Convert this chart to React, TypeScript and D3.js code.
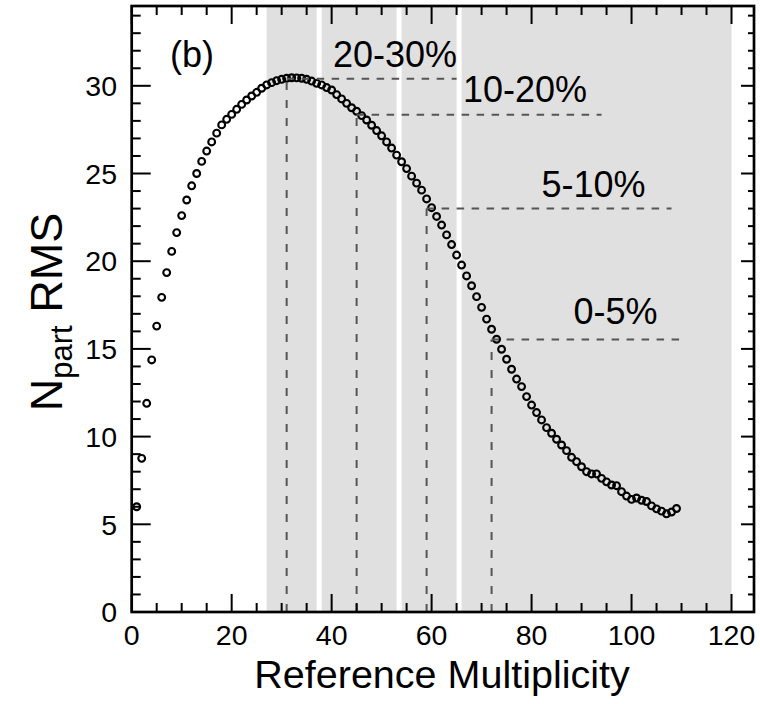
import React from 'react';
import * as d3 from 'd3';

// N_part RMS per reference-multiplicity bin, starting at multiplicity 1
const rmsValues = [
  6.0, 8.76, 11.9, 14.37, 16.3, 17.94, 19.35, 20.56, 21.63, 22.6,
  23.49, 24.3, 25.0, 25.69, 26.28, 26.8, 27.3, 27.77, 28.09, 28.37,
  28.66, 28.94, 29.19, 29.42, 29.63, 29.86, 30.05, 30.18, 30.29, 30.37,
  30.43, 30.46, 30.45, 30.43, 30.37, 30.27, 30.14, 30.05, 29.9, 29.76,
  29.5, 29.25, 29.0, 28.75, 28.55, 28.3, 28.05, 27.75, 27.45, 27.15,
  26.8, 26.45, 26.05, 25.67, 25.28, 24.85, 24.45, 24.05, 23.55, 23.05,
  22.55, 22.06, 21.5, 20.95, 20.35, 19.78, 19.16, 18.6, 17.98, 17.37,
  16.7, 16.12, 15.55, 14.98, 14.41, 13.84, 13.28, 12.85, 12.28, 11.8,
  11.37, 10.95, 10.51, 10.19, 9.85, 9.52, 9.2, 8.82, 8.57, 8.28,
  8.0, 7.87, 7.87, 7.62, 7.42, 7.24, 7.2, 6.86, 6.61, 6.42,
  6.5, 6.37, 6.3, 6.05, 5.88, 5.75, 5.6, 5.7, 5.9,
];
const firstMultiplicity = 1;

// centrality classes: shaded multiplicity ranges
const bandStart = [27, 38, 54, 66];
const bandEnd = [37, 53, 65, 120];

// class cut markers
const classLabels = ['20-30%', '10-20%', '5-10%', '0-5%'];
const cutMultiplicity = [31, 45, 59, 72];
const cutRms = [30.4, 28.35, 23.0, 15.53];
const cutLineEnd = [65, 94, 108, 110];

const xMajorTicks = [0, 20, 40, 60, 80, 100, 120];
const yMajorTicks = [0, 5, 10, 15, 20, 25, 30];

const W = 760;
const H = 704;
const FONT = '"Liberation Sans", Arial, Helvetica, sans-serif';

// pixel anchors for the class labels (text start, baseline)
const labelAnchors: [number, number][] = [
  [333, 67],
  [463, 102],
  [541.5, 197],
  [573.5, 324],
];

export default function App() {
  const x = d3.scaleLinear().domain([0, 124.5]).range([131.7, 754]);
  const y = d3.scaleLinear().domain([0, 34.55]).range([612, 6]);
  const [x0, x1] = x.range();
  const [y0, y1] = y.range();

  const xMinor = d3.range(0, 125, 5).filter((v) => v % 20 !== 0);
  const yMinor = d3.range(0, 35, 1).filter((v) => v % 5 !== 0);

  const points = rmsValues.map((v, i) => ({ m: firstMultiplicity + i, v }));

  return (
    <div style={{ position: 'absolute', left: 0, top: 0 }}>
      <svg width={W} height={H} style={{ display: 'block', background: '#fff' }}>
        {/* shaded centrality ranges */}
        {bandStart.map((s, i) => (
          <rect
            key={'band' + i}
            x={x(s)}
            y={y1}
            width={x(bandEnd[i]) - x(s)}
            height={y0 - y1}
            fill="#e0e0e0"
          />
        ))}

        {/* data points */}
        {points.map((p) => (
          <circle
            key={'pt' + p.m}
            cx={x(p.m)}
            cy={y(p.v)}
            r={3.4}
            fill="none"
            stroke="#000"
            strokeWidth={2.1}
          />
        ))}

        {/* dashed cut lines */}
        {cutMultiplicity.map((m, i) => (
          <g key={'cut' + i} stroke="#555" strokeWidth={2} fill="none">
            <line x1={x(m)} x2={x(m)} y1={y(0)} y2={y(cutRms[i])} strokeDasharray="8,10" />
            <line x1={x(m)} x2={x(cutLineEnd[i])} y1={y(cutRms[i])} y2={y(cutRms[i])} strokeDasharray="7.5,7.5" />
          </g>
        ))}

        {/* ticks, all pointing inward */}
        <g stroke="#000" strokeWidth={2}>
          {xMajorTicks.map((t) => (
            <g key={'xM' + t}>
              <line x1={x(t)} x2={x(t)} y1={y0} y2={y0 - 18} />
              <line x1={x(t)} x2={x(t)} y1={y1} y2={y1 + 18} />
            </g>
          ))}
          {xMinor.map((t) => (
            <g key={'xm' + t}>
              <line x1={x(t)} x2={x(t)} y1={y0} y2={y0 - 9} />
              <line x1={x(t)} x2={x(t)} y1={y1} y2={y1 + 9} />
            </g>
          ))}
          {yMajorTicks.map((t) => (
            <g key={'yM' + t}>
              <line x1={x0} x2={x0 + 19} y1={y(t)} y2={y(t)} />
              <line x1={x1} x2={x1 - 13} y1={y(t)} y2={y(t)} />
            </g>
          ))}
          {yMinor.map((t) => (
            <g key={'ym' + t}>
              <line x1={x0} x2={x0 + 9} y1={y(t)} y2={y(t)} />
              <line x1={x1} x2={x1 - 6} y1={y(t)} y2={y(t)} />
            </g>
          ))}
        </g>

        {/* frame */}
        <rect x={x0} y={y1} width={x1 - x0} height={y0 - y1} fill="none" stroke="#000" strokeWidth={2.7} />

        {/* tick labels */}
        <g fontFamily={FONT} fontSize={28.5} fill="#000">
          {xMajorTicks.map((t) => (
            <text key={'xl' + t} x={x(t)} y={645} textAnchor="middle">
              {t}
            </text>
          ))}
          {yMajorTicks.map((t) => (
            <text key={'yl' + t} x={117} y={y(t)} dy="0.36em" textAnchor="end">
              {t}
            </text>
          ))}
        </g>

        {/* axis titles */}
        <text x={442} y={688} textAnchor="middle" fontFamily={FONT} fontSize={39.5} fill="#000">
          Reference Multiplicity
        </text>
        <text
          transform="translate(62,312) rotate(-90)"
          textAnchor="middle"
          fontFamily={FONT}
          fontSize={45}
          fill="#000"
        >
          N
          <tspan fontSize={31} dy={10}>part</tspan>
          <tspan dy={-10}> RMS</tspan>
        </text>

        {/* panel tag and class labels */}
        <g fontFamily={FONT} fontSize={36} fill="#000">
          <text x={170} y={67}>(b)</text>
          {classLabels.map((l, i) => (
            <text key={'cl' + i} x={labelAnchors[i][0]} y={labelAnchors[i][1]}>
              {l}
            </text>
          ))}
        </g>
      </svg>
    </div>
  );
}
